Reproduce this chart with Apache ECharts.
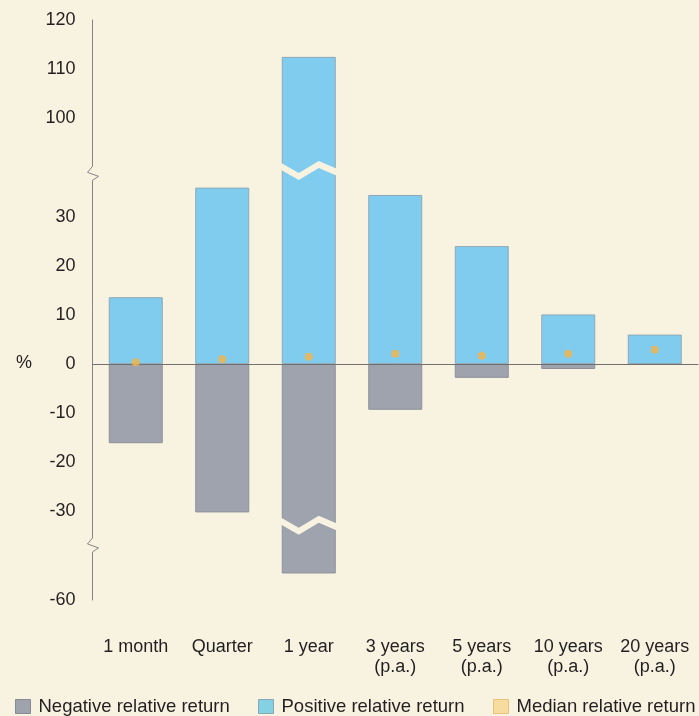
<!DOCTYPE html>
<html>
<head>
<meta charset="utf-8">
<script src="https://cdn.jsdelivr.net/npm/echarts@6/dist/echarts.min.js"></script>
<style>
html,body{margin:0;padding:0;background:#f8f2e1;}
#chart{width:699px;height:716px;}
</style>
</head>
<body>
<div id="chart"></div>
<script>
// ---- data ----
const categories = ['1 month', 'Quarter', '1 year', '3 years\n(p.a.)', '5 years\n(p.a.)', '10 years\n(p.a.)', '20 years\n(p.a.)'];
const negativeReturn = [-16.1, -30.3, -51, -9.3, -2.8, -1.0, 0];
const positiveReturn = [13.6, 35.9, 112.5, 34.4, 24.0, 10.1, 6.0];
const medianReturn = [0.35, 1.0, 1.5, 2.1, 1.7, 2.1, 2.9];
const yTickValues = [120, 110, 100, 30, 20, 10, 0, -10, -20, -30, -60];
const seriesNames = ['Negative relative return', 'Positive relative return', 'Median relative return'];

// ---- broken-axis mapping (value -> compressed axis units) ----
function toAxis(v) {
  if (v >= 90) return v - 50;
  if (v > 40) return 40;
  if (v >= -30) return v;
  return -30 + (v + 30) * 0.6;
}
function fromAxis(a) {
  if (a >= 45) return a + 50;
  if (a >= -30) return a;
  return -30 + (a + 30) / 0.6;
}

const FONT = "'Liberation Sans', Arial, Helvetica, sans-serif";
const TXT = '#231f20';
const BG = '#f8f2e1';

const chart = echarts.init(document.getElementById('chart'), null, {renderer: 'canvas'});

const legendText = {fontSize: 18.5, color: TXT, fontFamily: FONT, padding: [0, 0, 0, 3]};
const option = {
  backgroundColor: BG,
  animation: false,
  textStyle: {fontFamily: FONT, color: TXT},
  grid: {left: 92.5, right: 1, top: 20, bottom: 116, containLabel: false},
  legend: [
    {data: [{name: seriesNames[0], itemStyle: {color: '#9ea3ae', borderColor: '#858a94', borderWidth: 1}}],
     left: 15, top: 697, padding: 0, itemWidth: 15, itemHeight: 14, icon: 'rect', textStyle: legendText},
    {data: [{name: seriesNames[1], itemStyle: {color: '#84d1e4', borderColor: '#8aa6b4', borderWidth: 1}}],
     left: 258, top: 697, padding: 0, itemWidth: 15, itemHeight: 14, icon: 'rect', textStyle: legendText},
    {data: [{name: seriesNames[2], itemStyle: {color: '#f6d68e', borderColor: '#e8b968', borderWidth: 1}}],
     left: 493, top: 697, padding: 0, itemWidth: 15, itemHeight: 14, icon: 'rect', textStyle: legendText}
  ],
  xAxis: [
    {
      type: 'category', data: categories, position: 'bottom',
      axisLine: {show: false, onZero: false}, axisTick: {show: false},
      axisLabel: {fontSize: 18, lineHeight: 20, color: TXT, margin: 37, fontFamily: FONT, interval: 0}
    },
    {
      type: 'category', data: categories, position: 'top', z: 10,
      axisLine: {show: true, onZero: true, lineStyle: {color: '#707070', width: 1}},
      axisTick: {show: false}, axisLabel: {show: false}
    }
  ],
  yAxis: {
    type: 'value', min: -48, max: 70,
    axisLine: {show: true, lineStyle: {color: '#858585', width: 1}},
    axisTick: {show: false},
    splitLine: {show: false},
    axisLabel: {
      customValues: yTickValues.map(toAxis),
      formatter: function (a) { return String(Math.round(fromAxis(a))); },
      fontSize: 18, color: TXT, margin: 17, fontFamily: FONT
    }
  },
  series: [
    {
      name: seriesNames[0], type: 'bar', xAxisIndex: 0, barWidth: 54, barGap: '-100%',
      data: negativeReturn.map(toAxis),
      itemStyle: {color: '#9ea3ae', borderColor: '#8c919a', borderWidth: 1}
    },
    {
      name: seriesNames[1], type: 'bar', xAxisIndex: 0, barWidth: 54, barGap: '-100%',
      data: positiveReturn.map(toAxis),
      itemStyle: {color: '#80ccef', borderColor: '#8fa8b6', borderWidth: 1}
    },
    {
      name: seriesNames[2], type: 'scatter', xAxisIndex: 0, z: 20,
      data: medianReturn.map(toAxis), symbol: 'circle', symbolSize: 8,
      itemStyle: {color: '#f5b445'}
    }
  ]
};
chart.setOption(option);

// ---- break marks (decoration placed through the chart's own coordinate system) ----
function px(cat, axisVal) { return chart.convertToPixel({gridIndex: 0}, [cat, axisVal]); }
const barBreakShape = [[-31, -6], [-10, 6], [10, -6], [31, 3]];
const BAND = 7;
function barBreak(catIdx, axisVal) {
  const c = px(catIdx, axisVal);
  const top = barBreakShape.map(p => [c[0] + p[0], c[1] + p[1]]);
  const bot = barBreakShape.slice().reverse().map(p => [c[0] + p[0], c[1] + p[1] + BAND]);
  return {type: 'polygon', z: 100, shape: {points: top.concat(bot)}, style: {fill: BG}};
}
function axisBreak(axisVal) {
  const c = px(0, axisVal);
  const ax = 92.5;
  return [
    {type: 'rect', z: 100, shape: {x: ax - 3, y: c[1] - 7, width: 6, height: 14}, style: {fill: BG}},
    {type: 'polyline', z: 101, shape: {points: [[ax, c[1] - 7], [ax - 5, c[1] - 1], [ax + 6, c[1] + 3], [ax, c[1] + 7]]},
     style: {stroke: '#858585', lineWidth: 1, fill: null}}
  ];
}
const yearIdx = categories.indexOf('1 year');
const zeroPx = px(0, 0);
chart.setOption({
  graphic: [
    barBreak(yearIdx, 40.1),
    barBreak(yearIdx, -32.1),
    ...axisBreak(38.8),
    ...axisBreak(-36.8),
    {type: 'text', z: 100, left: 16, top: zeroPx[1] - 10,
     style: {text: '%', font: '18px ' + FONT, fill: TXT}}
  ]
});
</script>
</body>
</html>
